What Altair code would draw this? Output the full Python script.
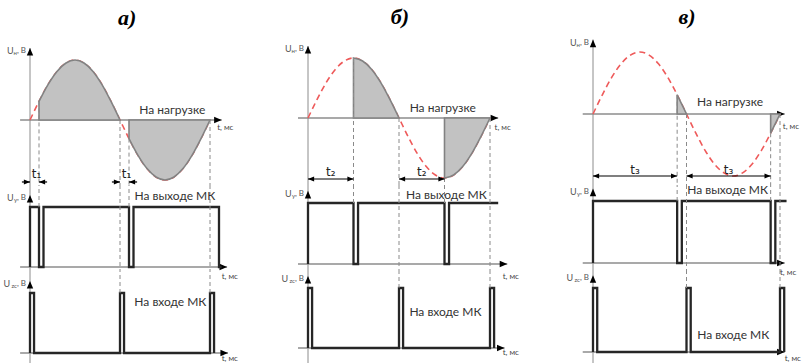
import altair as alt
import pandas as pd

# ---- one mains period (50 Hz), normalised supply voltage sampled every 1 ms ----
TIME_MS = list(range(21))
SUPPLY_V = [0.0, 0.31, 0.59, 0.81, 0.95, 1.0, 0.95, 0.81, 0.59, 0.31, 0.0,
            -0.31, -0.59, -0.81, -0.95, -1.0, -0.95, -0.81, -0.59, -0.31, 0.0]
HALF_PERIOD_MS = 10
ZERO_CROSS_MS = [0, 10, 20]
ZC_PULSE_MS = 0.45        # zero-cross detector pulse width
GATE_PULSE_MS = 0.5       # control pulse width at the MCU output
HIGH = 1.0

PANEL_TITLES = ["а)", "б)", "в)"]
DELAY_MS = [1, 5, 9]
DELAY_LABELS = ["t₁", "t₂", "t₃"]
GATE_END_MS = [21.3, 20.9, 20.7]

LOAD_TEXT = "На нагрузке"
GATE_TEXT = "На выходе МК"
ZC_TEXT = "На входе МК"
TIME_UNIT = "t, мс"
Y_SUBS = ["н", "у", "zc"]

# ---- layout of the three columns ----
ROW_H = [185, 87, 91]
LAYOUT = [
    dict(width=270, origin=30, px_ms=9.0, zero=120, amp=60, base2=82, px2=60, base3=81, px3=60,
         axis_end=[21.3, 21.9, 22.0], title=(10.8, 1.70), load_lbl=(15.8, 0.17),
         gate_lbl=(16.1, 1.18), zc_lbl=(15.6, 0.85),
         unit_lbl=[(20.8, -0.13), (21.3, -0.17), (21.3, -0.10)],
         span_y=-1.033, span_lbl_y=-0.90, outside=True),
    dict(width=270, origin=38, px_ms=9.1, zero=118, amp=60, base2=79, px2=61, base3=76, px3=60,
         axis_end=[20.9, 21.9, 21.6], title=(10.1, 1.68), load_lbl=(14.8, 0.17),
         gate_lbl=(15.2, 1.13), zc_lbl=(15.1, 0.60),
         unit_lbl=[(20.5, -0.17), (21.4, -0.21), (21.4, -0.08)],
         span_y=-1.017, span_lbl_y=-0.90, outside=False),
    dict(width=263, origin=53, px_ms=9.35, zero=114, amp=62, base2=78, px2=62, base3=80, px3=64,
         axis_end=[20.5, 20.5, 20.5], title=(10.05, 1.56), load_lbl=(14.65, 0.19),
         gate_lbl=(14.4, 1.18), zc_lbl=(15.0, 0.27),
         unit_lbl=[(20.3, -0.21), (20.0, -0.16), (20.5, -0.11)],
         span_y=-1.0, span_lbl_y=-0.90, outside=False),
]

FONT = "Lato"
AXIS_GREY = "#8c8c8c"
TRACE = "#262626"
RED = "#ee5a5a"
FILL = "#c2c2c2"
EDGE = "#828282"
GUIDE = "#8a8a8a"
ARROW_PATH = "M0,0L-1,-0.42L-1,0.42Z"
AXIS_START_MS = -1.1
AXIS_TIP = 1.2


def xenc(xs, f="t"):
    return alt.X(f"{f}:Q", scale=xs, axis=None)


def yenc(ys, f="y"):
    return alt.Y(f"{f}:Q", scale=ys, axis=None)


def arrowheads(df, xs, ys, size):
    return alt.Chart(df).mark_point(
        shape=ARROW_PATH, filled=True, size=size, color="black", opacity=1, strokeWidth=0
    ).encode(x=xenc(xs), y=yenc(ys), angle=alt.Angle("a:Q", scale=None))


def text_layer(xs, ys, t, y, label, **style):
    df = pd.DataFrame({"t": [t], "y": [y], "s": [label]})
    return alt.Chart(df).mark_text(baseline="middle", **style).encode(
        x=xenc(xs), y=yenc(ys), text="s:N")


def y_label(xs, ys, level, sub):
    grey = dict(font=FONT, color="#555555")
    sub_w = 3.4 * len(sub)
    return [
        text_layer(xs, ys, 0, level, ", В", align="right", dx=-4, fontSize=8, **grey),
        text_layer(xs, ys, 0, level, sub, align="right", dx=-13, dy=2, fontSize=6, **grey),
        text_layer(xs, ys, 0, level, "U", align="right", dx=-13 - sub_w, fontSize=9, **grey),
    ]


def axes(xs, ys, end, H, top_tip, base_color, base_width):
    base = alt.Chart(pd.DataFrame({"t": [AXIS_START_MS], "t2": [end], "y": [0.0]})).mark_rule(
        color=base_color, strokeWidth=base_width
    ).encode(x=xenc(xs), x2="t2:Q", y=yenc(ys))
    if top_tip:
        vert = alt.Chart(pd.DataFrame({"t": [0.0], "y": [AXIS_TIP]})).mark_rule(
            color=AXIS_GREY, strokeWidth=1).encode(x=xenc(xs), y=yenc(ys), y2=alt.value(H))
    else:
        vert = alt.Chart(pd.DataFrame({"t": [0.0]})).mark_rule(
            color=AXIS_GREY, strokeWidth=1).encode(x=xenc(xs), y=alt.value(0), y2=alt.value(H))
    heads = arrowheads(pd.DataFrame({"t": [end, 0.0], "y": [0.0, AXIS_TIP], "a": [0, 270]}),
                       xs, ys, 230)
    return [base, vert, heads]


def supply_row(i, xs):
    L, d, H = LAYOUT[i], DELAY_MS[i], ROW_H[0]
    ys = alt.Scale(domain=[-(H - L["zero"]) / L["amp"], L["zero"] / L["amp"]], nice=False, zero=False)
    supply = pd.DataFrame({"t": TIME_MS, "y": SUPPLY_V})

    rows = []
    for k, start in enumerate([d, HALF_PERIOD_MS + d]):
        stop = HALF_PERIOD_MS * (k + 1)
        for t, u in zip(TIME_MS, SUPPLY_V):
            if start <= t <= stop:
                rows.append({"t": t, "y": u, "y0": 0.0, "half": k})
    load = pd.DataFrame(rows)

    layers = axes(xs, ys, L["axis_end"][0], H, True, AXIS_GREY, 1.6)

    wave = alt.Chart(supply).mark_line(
        color=RED, strokeDash=[6, 4], strokeWidth=1.6, interpolate="monotone"
    ).encode(x=xenc(xs), y=yenc(ys))
    area = alt.Chart(load).mark_area(
        fill=FILL, stroke=EDGE, strokeWidth=1.6, opacity=1, interpolate="monotone"
    ).encode(x=xenc(xs), y=yenc(ys), y2="y0:Q", detail="half:N")

    marks = [d, HALF_PERIOD_MS, HALF_PERIOD_MS + d, 2 * HALF_PERIOD_MS]
    guides = pd.DataFrame({"t": marks, "y": [SUPPLY_V[TIME_MS.index(m)] for m in marks]})
    guide = alt.Chart(guides).mark_rule(color=GUIDE, strokeWidth=1, strokeDash=[4, 3]).encode(
        x=xenc(xs), y=yenc(ys), y2=alt.value(H))

    # delay span arrows
    seg_rows, tip_rows = [], []
    for s in [0, HALF_PERIOD_MS]:
        if L["outside"]:
            seg_rows += [{"t": s - 0.9, "t2": s}, {"t": s + d, "t2": s + d + 0.9}]
            tip_rows += [{"t": s, "a": 0}, {"t": s + d, "a": 180}]
        else:
            seg_rows += [{"t": s, "t2": s + d}]
            tip_rows += [{"t": s, "a": 180}, {"t": s + d, "a": 0}]
    segs = pd.DataFrame(seg_rows).assign(y=L["span_y"])
    tips = pd.DataFrame(tip_rows).assign(y=L["span_y"])
    span = alt.Chart(segs).mark_rule(color="black", strokeWidth=1.2).encode(
        x=xenc(xs), x2="t2:Q", y=yenc(ys))
    span_tips = arrowheads(tips, xs, ys, 150)
    span_text = alt.Chart(pd.DataFrame({
        "t": [d / 2, HALF_PERIOD_MS + d / 2], "y": [L["span_lbl_y"]] * 2,
        "s": [DELAY_LABELS[i]] * 2})).mark_text(
        font="DejaVu Sans", fontSize=12, color="#222222", baseline="middle", dx=2 if L["outside"] else 0
    ).encode(x=xenc(xs), y=yenc(ys), text="s:N")

    layers += [wave, area, guide, span, span_tips, span_text]
    layers.append(text_layer(xs, ys, *L["title"], PANEL_TITLES[i], align="center",
                             font="Liberation Serif", fontSize=22, fontWeight="bold",
                             fontStyle="italic", color="black"))
    layers.append(text_layer(xs, ys, *L["load_lbl"], LOAD_TEXT, align="center",
                             font=FONT, fontSize=12, color="#333333"))
    layers.append(text_layer(xs, ys, *L["unit_lbl"][0], TIME_UNIT, align="left",
                             font=FONT, fontSize=8, color="#444444"))
    layers += y_label(xs, ys, 1.15, Y_SUBS[0])
    return alt.layer(*layers).properties(width=L["width"], height=H)


def gate_row(i, xs):
    L, d, H = LAYOUT[i], DELAY_MS[i], ROW_H[1]
    ys = alt.Scale(domain=[-(H - L["base2"]) / L["px2"], L["base2"] / L["px2"]], nice=False, zero=False)
    end = GATE_END_MS[i]

    pts = [(0.0, 0.0), (0.0, HIGH)]
    for f in [d, HALF_PERIOD_MS + d, 2 * HALF_PERIOD_MS + d]:
        if f >= end:
            break
        pts += [(f, HIGH), (f, 0.0)]
        back = f + GATE_PULSE_MS
        if back >= end:
            pts.append((end, 0.0))
            break
        pts += [(back, 0.0), (back, HIGH)]
    if pts[-1][1] == HIGH:
        pts.append((end, HIGH))
    trace = pd.DataFrame({"t": [p[0] for p in pts], "y": [p[1] for p in pts], "k": range(len(pts))})

    layers = axes(xs, ys, L["axis_end"][1], H, False, "#555555", 1.2)
    layers.append(alt.Chart(trace).mark_line(color=TRACE, strokeWidth=2.3, strokeJoin="miter").encode(
        x=xenc(xs), y=yenc(ys), order="k:Q"))

    fire = pd.DataFrame({"t": [d, HALF_PERIOD_MS + d], "y": [HIGH, HIGH]})
    layers.append(alt.Chart(fire).mark_rule(color=GUIDE, strokeWidth=1, strokeDash=[4, 3]).encode(
        x=xenc(xs), y=yenc(ys), y2=alt.value(0)))
    cross = pd.DataFrame({"t": ZERO_CROSS_MS[1:]})
    layers.append(alt.Chart(cross).mark_rule(color=GUIDE, strokeWidth=1, strokeDash=[4, 3]).encode(
        x=xenc(xs), y=alt.value(0), y2=alt.value(H)))

    layers.append(text_layer(xs, ys, *L["gate_lbl"], GATE_TEXT, align="center",
                             font=FONT, fontSize=12, color="#333333"))
    layers.append(text_layer(xs, ys, *L["unit_lbl"][1], TIME_UNIT, align="left",
                             font=FONT, fontSize=8, color="#444444"))
    layers += y_label(xs, ys, 1.15, Y_SUBS[1])
    return alt.layer(*layers).properties(width=L["width"], height=H)


def zc_row(i, xs):
    L, H = LAYOUT[i], ROW_H[2]
    ys = alt.Scale(domain=[-(H - L["base3"]) / L["px3"], L["base3"] / L["px3"]], nice=False, zero=False)

    pts = []
    for z in ZERO_CROSS_MS:
        pts += [(z, 0.0), (z, HIGH), (z + ZC_PULSE_MS, HIGH), (z + ZC_PULSE_MS, 0.0)]
    trace = pd.DataFrame({"t": [p[0] for p in pts], "y": [p[1] for p in pts], "k": range(len(pts))})

    layers = axes(xs, ys, L["axis_end"][2], H, False, "#555555", 1.2)
    layers.append(alt.Chart(trace).mark_line(color=TRACE, strokeWidth=2.3, strokeJoin="miter").encode(
        x=xenc(xs), y=yenc(ys), order="k:Q"))
    cross = pd.DataFrame({"t": ZERO_CROSS_MS[1:], "y": [HIGH, HIGH]})
    layers.append(alt.Chart(cross).mark_rule(color=GUIDE, strokeWidth=1, strokeDash=[4, 3]).encode(
        x=xenc(xs), y=yenc(ys), y2=alt.value(0)))

    layers.append(text_layer(xs, ys, *L["zc_lbl"], ZC_TEXT, align="center",
                             font=FONT, fontSize=12, color="#333333"))
    layers.append(text_layer(xs, ys, *L["unit_lbl"][2], TIME_UNIT, align="left",
                             font=FONT, fontSize=8, color="#444444"))
    layers += y_label(xs, ys, 1.15, Y_SUBS[2])
    return alt.layer(*layers).properties(width=L["width"], height=H)


columns = []
for i in range(3):
    L = LAYOUT[i]
    xs = alt.Scale(domain=[-L["origin"] / L["px_ms"], (L["width"] - L["origin"]) / L["px_ms"]],
                   nice=False, zero=False)
    columns.append(alt.vconcat(supply_row(i, xs), gate_row(i, xs), zc_row(i, xs),
                               spacing=0, bounds="flush"))

chart = alt.hconcat(*columns, spacing=0).properties(
    padding=0, background="white"
).configure_view(stroke=None)

chart.save("out.html", embed_options={"renderer": "svg", "actions": False})
